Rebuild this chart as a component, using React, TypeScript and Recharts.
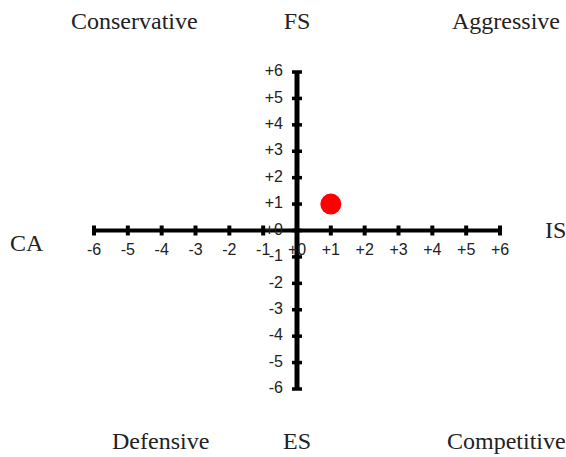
import { ReferenceLine, Scatter, ScatterChart, XAxis, YAxis } from "recharts";

// scale values along each axis of the SPACE matrix
const xTicks = [-6, -5, -4, -3, -2, -1, 0, 1, 2, 3, 4, 5, 6];
const yTicks = [-6, -5, -4, -3, -2, -1, 0, 1, 2, 3, 4, 5, 6];

// resulting position of the company (IS + CA, FS + ES)
const position = [{ x: 1, y: 1 }];

// quadrant / axis captions: text, left or centre x, centre y
const captions: { text: string; x: number; y: number; center?: boolean }[] = [
  { text: "Conservative", x: 71, y: 21 },
  { text: "FS", x: 297, y: 21, center: true },
  { text: "Aggressive", x: 452, y: 21 },
  { text: "CA", x: 10, y: 243 },
  { text: "IS", x: 545, y: 230 },
  { text: "Defensive", x: 112, y: 441 },
  { text: "ES", x: 297, y: 441, center: true },
  { text: "Competitive", x: 447, y: 441 },
];

const W = 566;
const H = 457;

const fmt = (v: number) => (v >= 0 ? `+${v}` : `${v}`);

const tickFont = { fontFamily: "Liberation Sans, Arial, sans-serif", fontSize: 16, fill: "#222" };

const xTickData = xTicks.map((v) => ({ x: v, y: 0 }));
const yTickData = yTicks.map((v) => ({ x: 0, y: v }));

function XTickMark(p: any) {
  return (
    <g>
      <line x1={p.cx} x2={p.cx} y1={p.cy - 5} y2={p.cy + 5} stroke="#000" strokeWidth={4} />
      <text x={p.cx} y={p.cy + 20} textAnchor="middle" dominantBaseline="middle" {...tickFont}>
        {fmt(p.payload.x)}
      </text>
    </g>
  );
}

function YTickMark(p: any) {
  return (
    <g>
      <line x1={p.cx - 5} x2={p.cx + 5} y1={p.cy} y2={p.cy} stroke="#000" strokeWidth={3.5} />
      <text x={p.cx - 14} y={p.cy} textAnchor="end" dominantBaseline="middle" {...tickFont}>
        {fmt(p.payload.y)}
      </text>
    </g>
  );
}

function Dot(p: any) {
  return <circle cx={p.cx} cy={p.cy} r={10.5} fill="#f00" />;
}

export default function App() {
  return (
    <div style={{ position: "absolute", left: 0, top: 0, width: W, height: H, background: "#fff" }}>
      <ScatterChart width={W} height={H} margin={{ top: 72, right: 66, bottom: 68, left: 94 }}>
        <XAxis type="number" dataKey="x" domain={[-6, 6]} hide />
        <YAxis type="number" dataKey="y" domain={[-6, 6]} hide />
        <ReferenceLine y={0} stroke="#000" strokeWidth={4} />
        <ReferenceLine x={0} stroke="#000" strokeWidth={5} />
        <Scatter data={xTickData} shape={XTickMark} isAnimationActive={false} />
        <Scatter data={yTickData} shape={YTickMark} isAnimationActive={false} />
        <Scatter data={position} shape={Dot} isAnimationActive={false} />
      </ScatterChart>
      {captions.map((c) => (
        <div
          key={c.text}
          style={{
            position: "absolute",
            left: c.x,
            top: c.y,
            transform: c.center ? "translate(-50%, -50%)" : "translateY(-50%)",
            fontFamily: "Liberation Serif, Times New Roman, serif",
            fontSize: 24,
            lineHeight: 1,
            color: "#222",
            whiteSpace: "nowrap",
          }}
        >
          {c.text}
        </div>
      ))}
    </div>
  );
}
